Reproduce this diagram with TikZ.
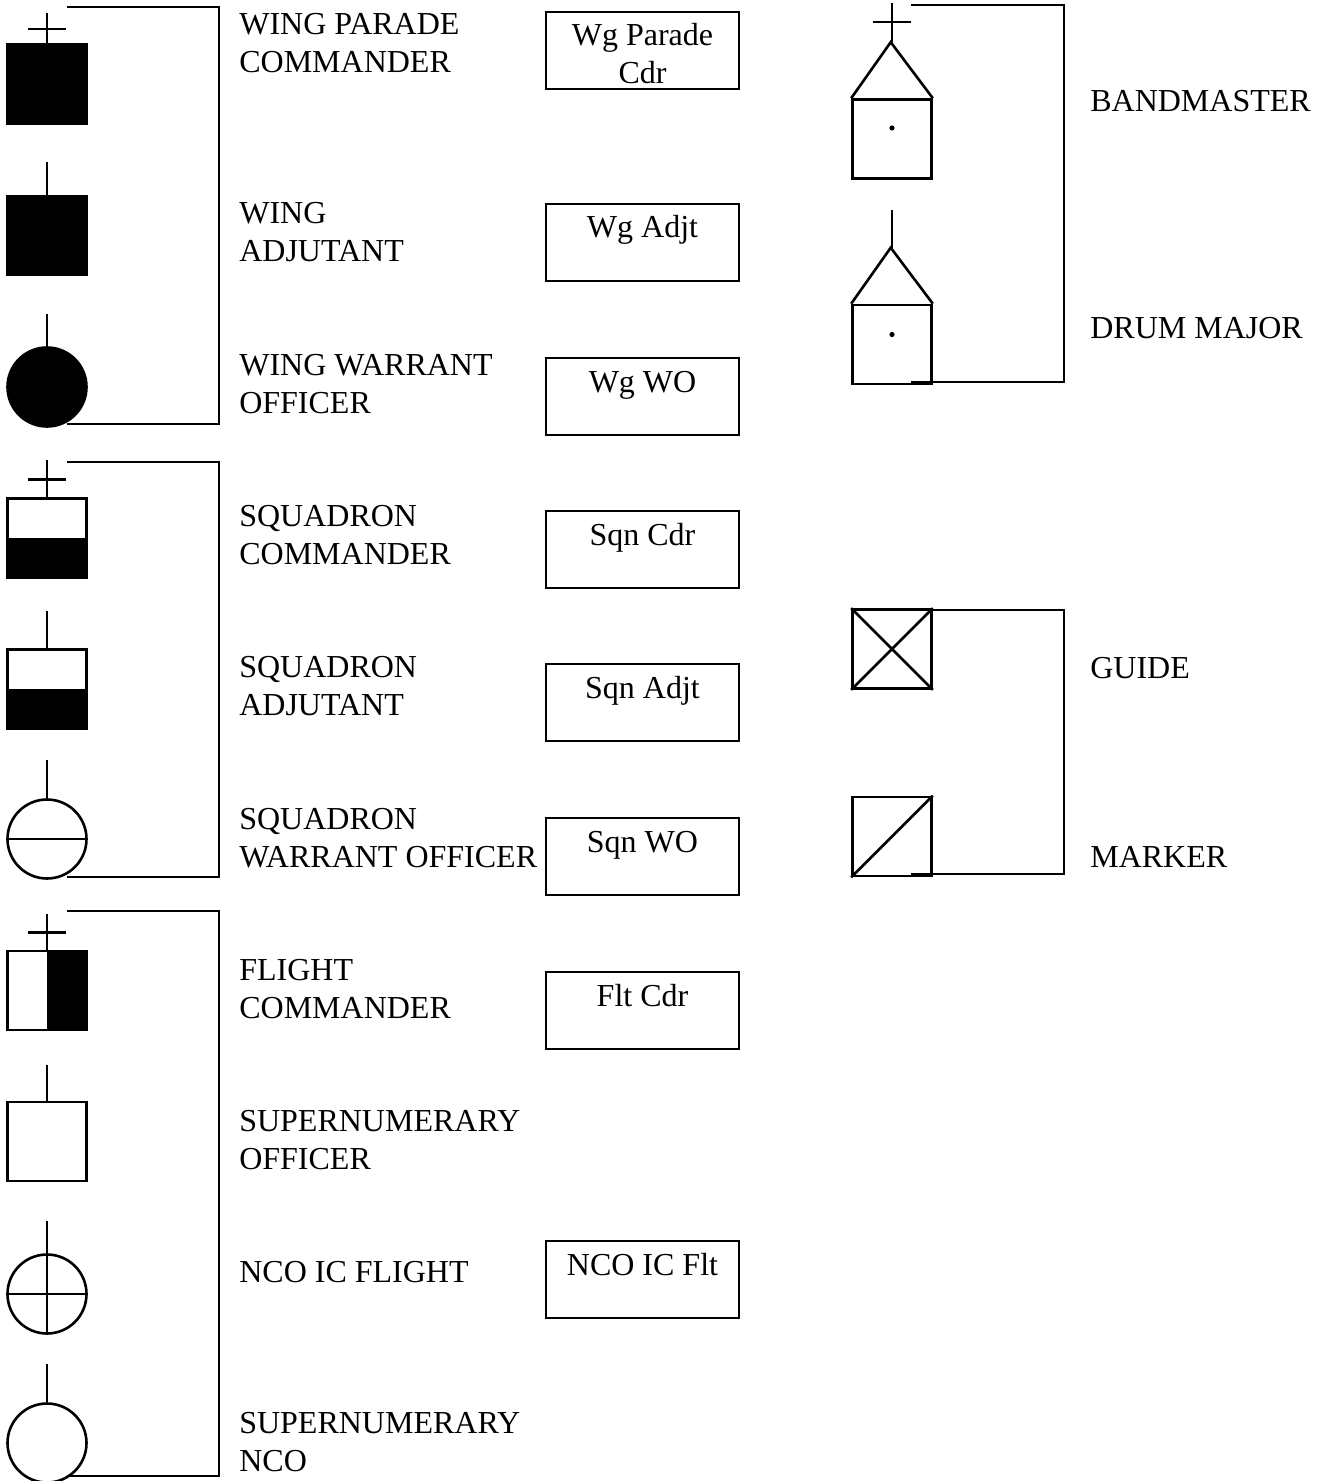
\documentclass[tikz,border=0pt]{standalone}
\usepackage{fontspec}
\setmainfont{Liberation Serif}
\usetikzlibrary{positioning}

\tikzset{
  sym/.style={draw, line width=1.3pt, inner sep=0pt, minimum width=39.5pt, minimum height=39.5pt},
  disc/.style={sym, circle, minimum size=39.5pt},
  tag/.style={anchor=base west, inner sep=0pt, align=left, font=\fontsize{16}{19}\selectfont},
  abbr/.style={draw, line width=1pt, inner sep=0pt, anchor=north, minimum width=96.5pt, minimum height=38.5pt,
    text height=17pt, text depth=21.5pt, align=center, font=\fontsize{16}{19}\selectfont},
  brk/.style={line width=1.3pt},
}

\begin{document}
\begin{tikzpicture}[x=0.5pt,y=-0.5pt,line width=1.3pt]
\useasboundingbox (0,0) rectangle (1323,1481);

% wing
\node[sym, fill] (wpc) at (47,84) {};
\draw (wpc.north) -- ++(0,-30);
\draw (wpc.north) ++(-19,-14) -- ++(38,0);
\node[sym, fill] (wadj) at (47,235.5) {};
\draw (wadj.north) -- ++(0,-33);
\node[disc, fill] (wwo) at (47,387) {};
\draw (wwo.north) -- ++(0,-32);
\coordinate (wgA) at (67,7);
\coordinate (wgB) at (67,424);
\draw[brk] (wgA) -- ++(152,0) |- (wgB);

% squadron
\node[sym] (sqncdr) at (47,538) {};
\fill (sqncdr.west) rectangle (sqncdr.south east);
\draw (sqncdr.north) -- ++(0,-37);
\draw (sqncdr.north) ++(-19,-18) -- ++(38,0);
\node[sym] (sqnadj) at (47,689) {};
\fill (sqnadj.west) rectangle (sqnadj.south east);
\draw (sqnadj.north) -- ++(0,-37);
\node[disc] (sqnwo) at (47,839) {};
\draw (sqnwo.west) -- (sqnwo.east);
\draw (sqnwo.north) -- ++(0,-38);
\coordinate (sqA) at (67,462);
\coordinate (sqB) at (67,877);
\draw[brk] (sqA) -- ++(152,0) |- (sqB);

% flight
\node[sym] (fltcdr) at (47,990.5) {};
\fill (fltcdr.north) rectangle (fltcdr.south east);
\draw (fltcdr.north) -- ++(0,-36);
\draw (fltcdr.north) ++(-19,-17) -- ++(38,0);
\node[sym] (supoff) at (47,1141.5) {};
\draw (supoff.north) -- ++(0,-36);
\node[disc] (ncoic) at (47,1294) {};
\draw (ncoic.west) -- (ncoic.east);
\draw (ncoic.south) -- ++(0,-114);
\node[disc] (supnco) at (47,1443) {};
\draw (supnco.north) -- ++(0,-38);
\coordinate (flA) at (67,911);
\coordinate (flB) at (67,1476);
\draw[brk] (flA) -- ++(152,0) |- (flB);

% labels (base = last line)
\node[tag] (lwpc) at (238,73) {WING PARADE\\COMMANDER};
\node[tag] (lwadj) at (238,262) {WING\\ADJUTANT};
\node[tag] (lwwo) at (238,413) {WING WARRANT\\OFFICER};
\node[tag] (lsqncdr) at (238,564) {SQUADRON\\COMMANDER};
\node[tag] (lsqnadj) at (238,715) {SQUADRON\\ADJUTANT};
\node[tag] (lsqnwo) at (238,867) {SQUADRON\\WARRANT OFFICER};
\node[tag] (lfltcdr) at (238,1018) {FLIGHT\\COMMANDER};
\node[tag] (lsupoff) at (238,1169) {SUPERNUMERARY\\OFFICER};
\node[tag] (lncoic) at (238,1282) {NCO IC FLIGHT};
\node[tag] (lsupnco) at (238,1471) {SUPERNUMERARY\\NCO};

% abbreviations
\node[abbr, text height=36pt, text depth=2.5pt] (bwpc) at (642.5,11) {Wg Parade\\Cdr};
\node[abbr] (bwadj) at (642.5,203) {Wg Adjt};
\node[abbr] (bwwo) at (642.5,357) {Wg WO};
\node[abbr] (bsqncdr) at (642.5,510) {Sqn Cdr};
\node[abbr] (bsqnadj) at (642.5,663) {Sqn Adjt};
\node[abbr] (bsqnwo) at (642.5,817) {Sqn WO};
\node[abbr] (bfltcdr) at (642.5,971) {Flt Cdr};
\node[abbr] (bncoic) at (642.5,1240) {NCO IC Flt};

% band
\node[sym] (bandm) at (892,139) {};
\draw (bandm.north west) -- ++(39.5,-56) -- (bandm.north east);
\draw (bandm.north) ++(0,-56) -- ++(0,-39);
\draw (bandm.north) ++(-19,-76) -- ++(38,0);
\fill (bandm.center) ++(0,-11) circle (1.3pt);
\node[sym] (drumm) at (892,344.5) {};
\draw (drumm.north west) -- ++(39.5,-56) -- (drumm.north east);
\draw (drumm.north) ++(0,-56) -- ++(0,-38);
\fill (drumm.center) ++(0,-10) circle (1.3pt);
\coordinate (bdA) at (911,5);
\coordinate (bdB) at (911,382);
\draw[brk] (bdA) -- ++(153,0) |- (bdB);
\node[tag] (lbandm) at (1089,112) {BANDMASTER};
\node[tag] (ldrumm) at (1089,338) {DRUM MAJOR};

% guide and marker
\node[sym] (guide) at (892,649) {};
\draw (guide.north west) -- (guide.south east);
\draw (guide.south west) -- (guide.north east);
\node[sym] (marker) at (892,836.5) {};
\draw (marker.south west) -- (marker.north east);
\coordinate (gmA) at (911,610);
\coordinate (gmB) at (911,874);
\draw[brk] (gmA) -- ++(153,0) |- (gmB);
\node[tag] (lguide) at (1089,678) {GUIDE};
\node[tag] (lmarker) at (1089,867) {MARKER};
\end{tikzpicture}
\end{document}
